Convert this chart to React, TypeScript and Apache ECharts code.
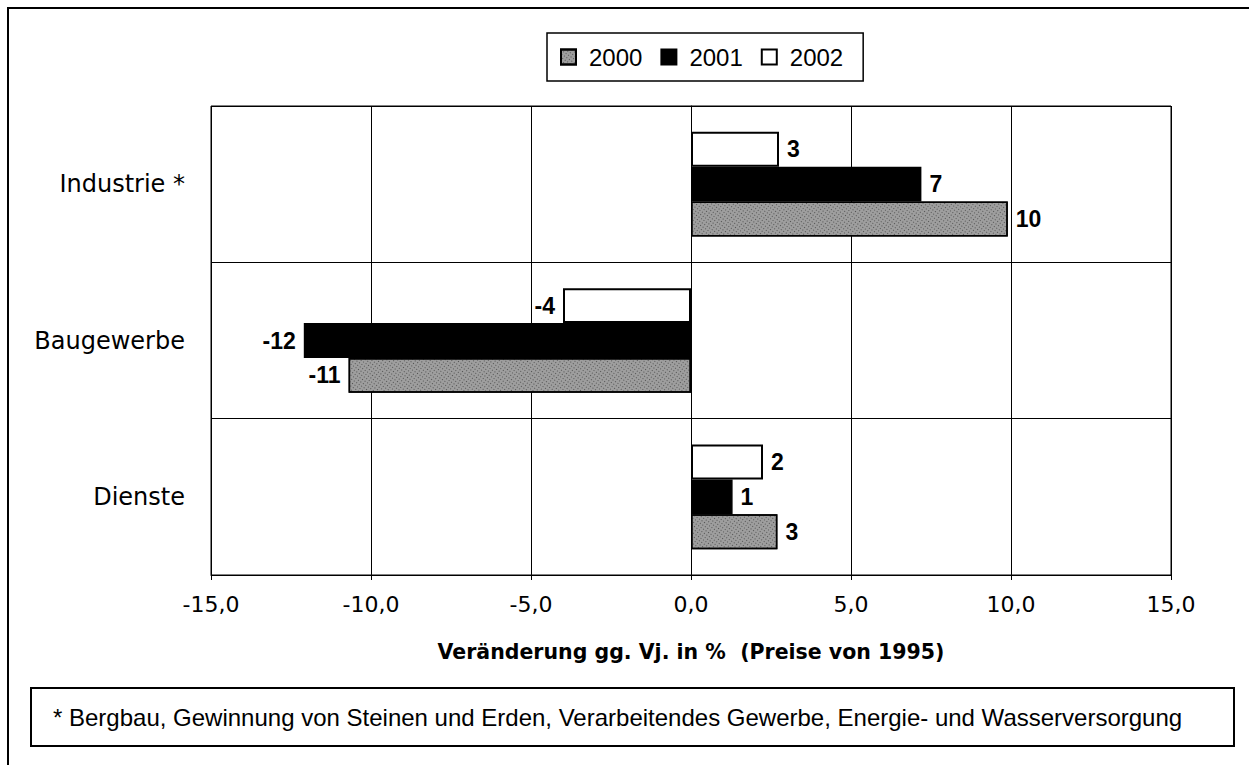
import React, { useEffect, useRef } from "react";
import * as echarts from "echarts";

const categories = ["Industrie *", "Baugewerbe", "Dienste"];
const years = ["2000", "2001", "2002"];
const values2000 = [9.9, -10.7, 2.7];
const values2001 = [7.2, -12.1, 1.3];
const values2002 = [2.75, -4.0, 2.25];
const xTicks = { min: -15, max: 15, interval: 5 };
const axisTitle = "Veränderung gg. Vj. in %  (Preise von 1995)";
const footnote =
  "* Bergbau, Gewinnung von Steinen und Erden, Verarbeitendes Gewerbe, Energie- und Wasserversorgung";

const SPACED = "'DejaVu Sans', sans-serif";
const ARIAL = "'Liberation Sans', Arial, sans-serif";

function makeData(vals: number[]) {
  return vals.map((v) => ({
    value: v,
    label: { position: v < 0 ? "left" : "right" },
  }));
}

export default function App() {
  const ref = useRef<HTMLDivElement>(null);
  useEffect(() => {
    if (!ref.current) return;
    const chart = echarts.init(ref.current, null, { renderer: "svg" });
    const label = {
      show: true,
      distance: 8,
      fontFamily: ARIAL,
      fontWeight: "bold",
      fontSize: 23,
      color: "#000",
      formatter: (p: any) => String(Math.round(p.value)),
    };
    const styles: Record<string, any> = {
      "2000": {
        color: "#9e9e9e",
        borderColor: "#000",
        borderWidth: 1.5,
        decal: {
          symbol: "rect",
          symbolSize: 1,
          color: "rgba(30,30,30,0.6)",
          dashArrayX: [1, 2],
          dashArrayY: [1, 2],
          rotation: 0.6,
        },
      },
      "2001": { color: "#000", borderColor: "#000", borderWidth: 1.5 },
      "2002": { color: "#fff", borderColor: "#000", borderWidth: 2 },
    };
    const seriesVals: Record<string, number[]> = {
      "2000": values2000,
      "2001": values2001,
      "2002": values2002,
    };
    const seriesOrder = [...years].reverse();
    chart.setOption({
      animation: false,
      backgroundColor: "#fff",
      legend: {
        data: years,
        left: 547,
        top: 33,
        orient: "horizontal",
        itemWidth: 15,
        itemHeight: 15,
        itemGap: 18,
        padding: [12, 20, 12, 13],
        borderColor: "#000",
        borderWidth: 1.5,
        icon: "rect",
        textStyle: {
          fontFamily: ARIAL,
          fontSize: 24,
          color: "#000",
          padding: [0, 0, 0, 8],
        },
      },
      grid: {
        left: 211,
        right: 78,
        top: 106,
        bottom: 190,
        show: true,
        borderColor: "#000",
        borderWidth: 1,
      },
      xAxis: {
        type: "value",
        min: xTicks.min,
        max: xTicks.max,
        interval: xTicks.interval,
        name: axisTitle,
        nameLocation: "middle",
        nameGap: 66,
        nameTextStyle: {
          fontFamily: SPACED,
          fontWeight: "bold",
          fontSize: 20.5,
          color: "#000",
        },
        axisLine: { show: true, lineStyle: { color: "#000", width: 1 } },
        axisTick: { show: true, length: 5, lineStyle: { color: "#000" } },
        splitLine: { show: true, lineStyle: { color: "#000", width: 1 } },
        axisLabel: {
          margin: 18,
          fontFamily: SPACED,
          fontSize: 22,
          color: "#000",
          formatter: (v: number) => v.toFixed(1).replace(".", ","),
        },
      },
      yAxis: {
        type: "category",
        data: categories,
        inverse: true,
        axisLine: { show: true, lineStyle: { color: "#000", width: 1 } },
        axisTick: { show: true, length: 5, lineStyle: { color: "#000" } },
        splitLine: { show: true, lineStyle: { color: "#000", width: 1 } },
        axisLabel: {
          margin: 26,
          fontFamily: SPACED,
          fontSize: 24,
          color: "#000",
        },
      },
      series: seriesOrder.map((y) => ({
        name: y,
        type: "bar",
        data: makeData(seriesVals[y]),
        barGap: "0%",
        barCategoryGap: "33%",
        itemStyle: styles[y],
        label,
      })),
      graphic: [
        {
          type: "rect",
          shape: { x: 8, y: 8, width: 1400, height: 900 },
          style: { fill: "none", stroke: "#000", lineWidth: 2 },
          silent: true,
        },
        {
          type: "rect",
          shape: { x: 31, y: 688, width: 1203, height: 58 },
          style: { fill: "#fff", stroke: "#000", lineWidth: 2 },
          silent: true,
        },
        {
          type: "text",
          x: 53,
          y: 717,
          style: {
            text: footnote,
            fontFamily: ARIAL,
            fontSize: 24,
            fill: "#000",
            textVerticalAlign: "middle",
            verticalAlign: "middle",
          },
          silent: true,
        },
      ],
    });
    return () => chart.dispose();
  }, []);
  return (
    <div
      ref={ref}
      style={{ position: "fixed", left: 0, top: 0, width: 1249, height: 765 }}
    />
  );
}
